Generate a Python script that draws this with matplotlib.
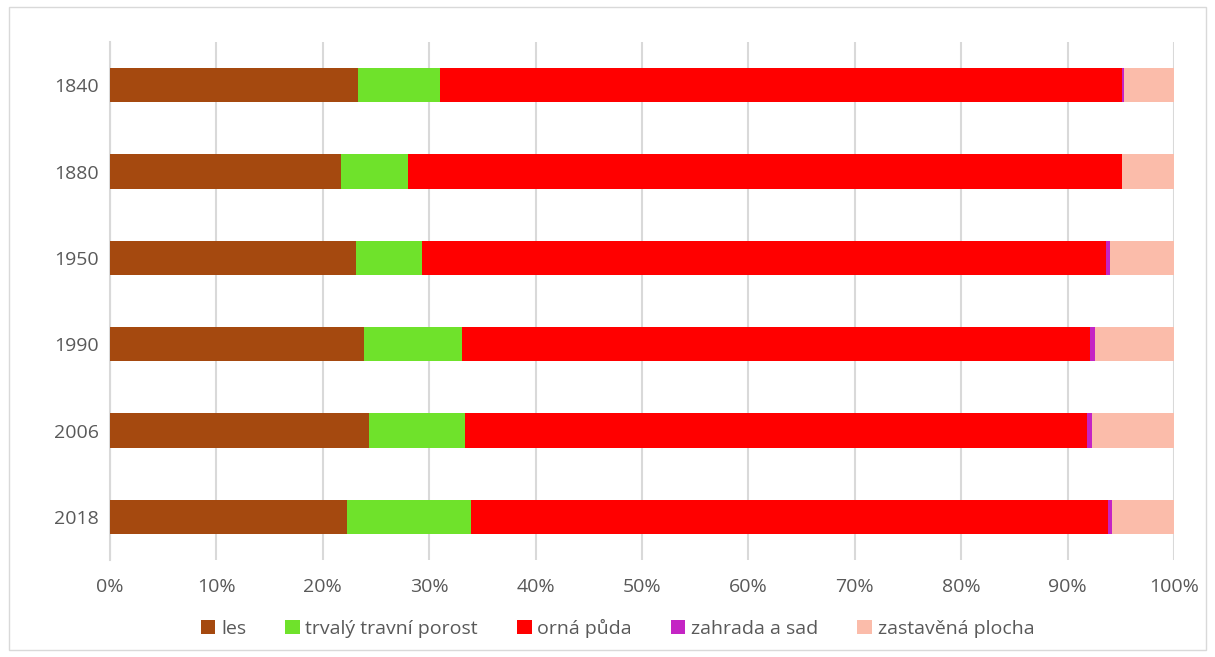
import matplotlib
matplotlib.use('Agg')
import matplotlib.pyplot as plt
import matplotlib.patches as mpatches
import numpy as np

plt.rcParams['font.family'] = ['Open Sans', 'DejaVu Sans']

# land use shares (%) per year
years = ['1840', '1880', '1950', '1990', '2006', '2018']
les = [23.3, 21.7, 23.1, 23.9, 24.3, 22.3]
travni_porost = [7.7, 6.3, 6.2, 9.2, 9.1, 11.6]
orna_puda = [64.1, 67.1, 64.3, 59.0, 58.4, 59.9]
zahrada_sad = [0.2, 0.05, 0.4, 0.5, 0.5, 0.4]
zastavena = [4.7, 4.85, 6.0, 7.4, 7.7, 5.8]

series = [les, travni_porost, orna_puda, zahrada_sad, zastavena]
labels = ['les', 'trvalý travní porost', 'orná půda', 'zahrada a sad', 'zastavěná plocha']
colors = ['#A5490F', '#6FE22B', '#FF0000', '#C424C4', '#FBBCAA']

fig = plt.figure(figsize=(12.15, 6.57), dpi=100)
ax = fig.add_axes([0.0905, 0.1476, 0.8758, 0.7884])

# outer chart border
fig.patches.append(mpatches.Rectangle((0.007, 0.011), 0.986, 0.978, transform=fig.transFigure,
                                      fill=False, edgecolor='#d9d9d9', linewidth=1))

ypos = np.arange(len(years))[::-1]
left = np.zeros(len(years))
for vals, lab, col in zip(series, labels, colors):
    v = np.array(vals)
    ax.barh(ypos, v, left=left, height=0.4, color=col, label=lab, zorder=3)
    left += v

ax.set_xlim(0, 100)
ax.set_ylim(-0.5, 5.5)
ax.set_xticks(np.arange(0, 101, 10))
ax.set_xticklabels([f'{t}%' for t in range(0, 101, 10)])
ax.set_yticks(ypos)
ax.set_yticklabels(years)
ax.tick_params(axis='both', length=0, labelsize=14, labelcolor='#595959')
ax.tick_params(axis='x', pad=13)
ax.tick_params(axis='y', pad=8)
ax.grid(axis='x', color='#d9d9d9', linewidth=1.5, zorder=0)
for s in ['top', 'right', 'bottom']:
    ax.spines[s].set_visible(False)
ax.spines['left'].set_color('#d9d9d9')
ax.spines['left'].set_linewidth(1.5)

ax.legend(loc='upper center', bbox_to_anchor=(0.477, -0.08), ncol=5, frameon=False,
          fontsize=14, labelcolor='#595959', handlelength=0.75, handleheight=0.75,
          handletextpad=0.3, columnspacing=2.0)

plt.savefig('out.png', dpi=100)
plt.close()
